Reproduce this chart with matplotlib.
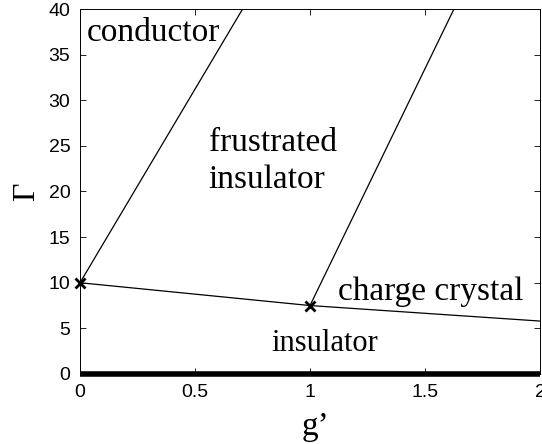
import numpy as np
import matplotlib
matplotlib.use('Agg')
from matplotlib import pyplot as plt

# phase boundaries (g', Gamma)
conductorG = [0.0, 0.707]
conductorGamma = [10.0, 40.0]
frustratedG = [1.0, 1.626]
frustratedGamma = [7.5, 40.0]
insulatorG = [0.0, 1.0, 2.0]
insulatorGamma = [10.0, 7.5, 5.8]
zeroG = [0.0, 2.0]
zeroGamma = [0.0, 0.0]
pointsG = [0.0, 1.0]
pointsGamma = [10.0, 7.5]

xticks = [0, 0.5, 1, 1.5, 2]
xtickLabels = ['0', '0.5', '1', '1.5', '2']
yticks = [0, 5, 10, 15, 20, 25, 30, 35, 40]

serif = 'Liberation Serif'
sans = 'Liberation Sans'

fig = plt.figure(figsize=(5.42, 4.44), dpi=100)
ax = fig.add_axes([0.1476, 0.1577, 0.8487, 0.822])

ax.plot(conductorG, conductorGamma, color='black', linewidth=0.9)
ax.plot(frustratedG, frustratedGamma, color='black', linewidth=0.9)
ax.plot(insulatorG, insulatorGamma, color='black', linewidth=0.9)
ax.plot(zeroG, zeroGamma, color='black', linewidth=4, solid_capstyle='butt', clip_on=False)
ax.plot(pointsG, pointsGamma, linestyle='none', marker='x', color='black',
        markersize=7, markeredgewidth=2, clip_on=False)

ax.set_xlim(0, 2)
ax.set_ylim(0, 40)
ax.set_xticks(xticks)
ax.set_xticklabels(xtickLabels)
ax.set_yticks(yticks)
ax.tick_params(direction='in', top=True, right=True, length=4, width=0.6,
               labelsize=14, pad=7)
for lab in ax.get_xticklabels() + ax.get_yticklabels():
    lab.set_fontfamily(sans)
for sp in ax.spines.values():
    sp.set_linewidth(0.7)

ax.text(0.03, 37.4, 'conductor', fontsize=24, family=serif, ha='left', va='center')
ax.text(0.56, 23.3, 'frustrated\ninsulator', fontsize=24, family=serif,
        ha='left', va='center', linespacing=1.3)
ax.text(1.12, 9.0, 'charge crystal', fontsize=24, family=serif, ha='left', va='center')
ax.text(0.83, 3.3, 'insulator', fontsize=22, family=serif, ha='left', va='center')

ax.set_xlabel("g\u2019", fontsize=24, family=serif, labelpad=8)
ax.xaxis.label.set_x(0.512)
ax.set_ylabel('\u0393', fontsize=23, family=serif, labelpad=5)

fig.savefig('out.png', dpi=100)
